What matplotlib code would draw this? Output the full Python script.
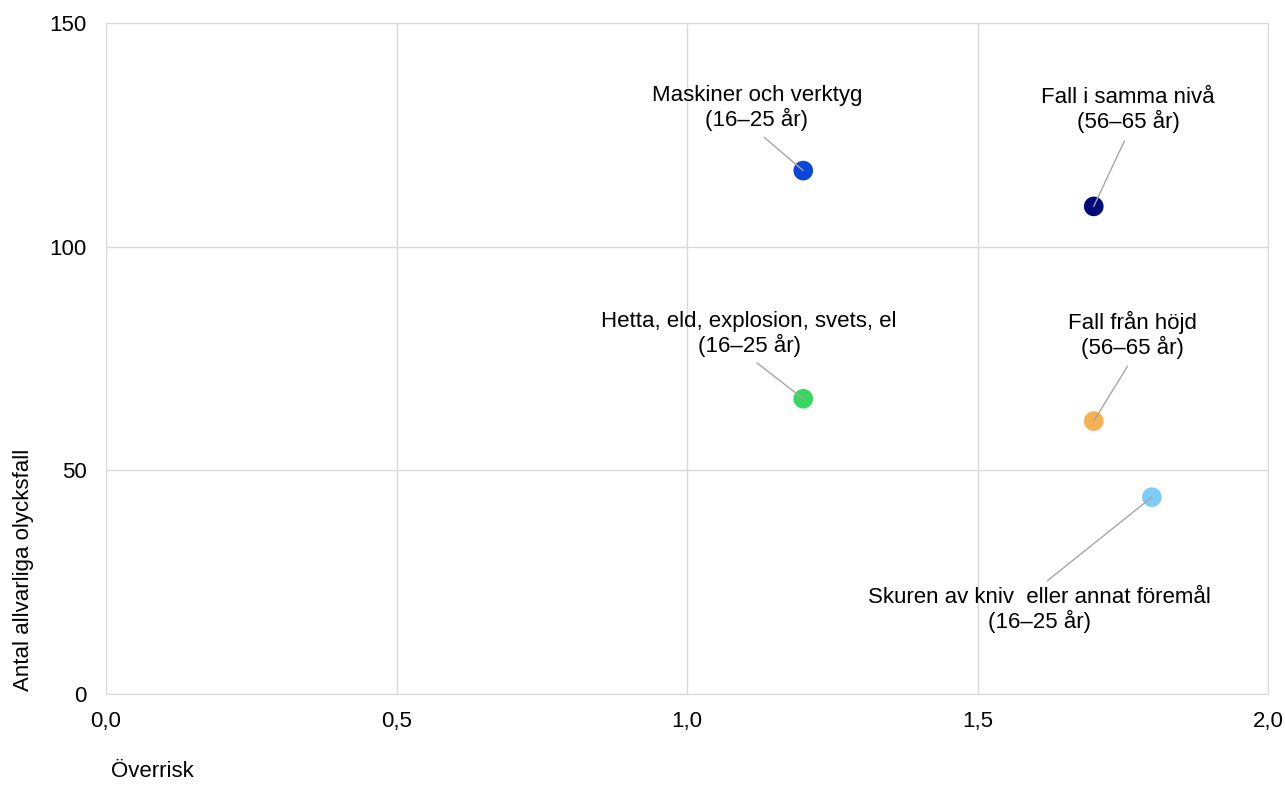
import matplotlib.pyplot as plt
import matplotlib.ticker as mticker

plt.rcParams['font.family'] = ['Liberation Sans', 'DejaVu Sans']

# data
labels = ["Maskiner och verktyg\n(16–25 år)",
          "Fall i samma nivå\n(56–65 år)",
          "Hetta, eld, explosion, svets, el\n(16–25 år)",
          "Fall från höjd\n(56–65 år)",
          "Skuren av kniv  eller annat föremål\n(16–25 år)"]
overrisk = [1.2, 1.7, 1.2, 1.7, 1.8]
antal = [117, 109, 66, 61, 44]
colors = ["#0a47d6", "#000a78", "#38d860", "#f8b055", "#80ccf8"]

# where the labels sit (data coords) and which side the leader line leaves from
label_pos = [(1.12, 131), (1.759, 130.5), (1.107, 80.5), (1.766, 80.3), (1.607, 18.8)]
line_from = [(0.5, 0), (0.5, 0), (0.5, 0), (0.5, 0), (0.5, 1)]

fig = plt.figure(figsize=(12.85, 7.87), dpi=100)
ax = fig.add_axes([0.0825, 0.1182, 0.9043, 0.8526])

ax.scatter(overrisk, antal, s=200, c=colors, zorder=3, linewidths=0)

for lab, x, y, (tx, ty), rp in zip(labels, overrisk, antal, label_pos, line_from):
    ax.annotate(lab, xy=(x, y), xytext=(tx, ty), ha='center', va='center',
                fontsize=16, linespacing=1.1, zorder=4,
                arrowprops=dict(arrowstyle='-', color='#a6a6a6', lw=1,
                                shrinkA=4, shrinkB=0, relpos=rp))

ax.set_xlim(0, 2)
ax.set_ylim(0, 150)
ax.set_xticks([0, 0.5, 1.0, 1.5, 2.0])
ax.set_yticks([0, 50, 100, 150])
ax.xaxis.set_major_formatter(mticker.FuncFormatter(lambda v, p: f"{v:.1f}".replace('.', ',')))
ax.tick_params(length=0, labelsize=16, colors='black')
ax.tick_params(axis='x', pad=12)
ax.tick_params(axis='y', pad=14)
ax.grid(True, color='#d9d9d9', lw=1)
ax.set_axisbelow(True)
for sp in ax.spines.values():
    sp.set_color('#d9d9d9')

ax.set_xlabel("Överrisk", loc='left', fontsize=16)
ax.xaxis.set_label_coords(0.004, -0.1)
ax.set_ylabel("Antal allvarliga olycksfall", loc='bottom', fontsize=16)
ax.yaxis.set_label_coords(-0.062, 0.005)

fig.savefig("out.png", dpi=100)
